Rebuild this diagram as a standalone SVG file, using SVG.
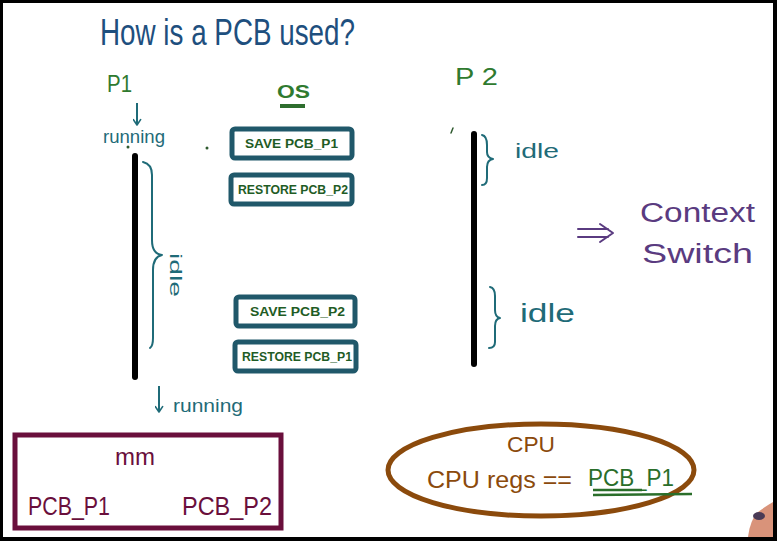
<svg xmlns="http://www.w3.org/2000/svg" width="777" height="541" viewBox="0 0 777 541">
<defs>
<style>
.hand{font-family:"Liberation Sans","DejaVu Sans",sans-serif;}
.title{fill:#1e4f7e;font-size:36px;}
.green{fill:#2f7a2f;}
.teal{fill:#1f6b78;}
.tealS{stroke:#1f6b78;fill:none;stroke-width:2;stroke-linecap:round;stroke-linejoin:round;}
.box{fill:#fff;stroke:#20586a;stroke-width:5;}
.boxtxt{fill:#1f5c25;font-size:12px;font-weight:bold;}
.tl{stroke:#000;stroke-width:6;stroke-linecap:round;}
.purple{fill:#5a3b80;}
.maroon{fill:#6a0f3c;}
.brown{fill:#8b4a0c;}
</style>
<marker id="ah" viewBox="0 0 10 10" refX="9" refY="5" markerWidth="9" markerHeight="9" orient="auto" markerUnits="userSpaceOnUse">
<path d="M3,1 L9,5 L3,9" fill="none" stroke="#1f6b78" stroke-width="1.8" stroke-linecap="round" stroke-linejoin="round"/>
</marker>
</defs>
<rect x="0" y="0" width="777" height="541" fill="#000"/>
<rect x="3" y="3" width="770" height="534" fill="#fff"/>

<text class="hand title" x="100" y="45" textLength="255" lengthAdjust="spacingAndGlyphs">How is a PCB used?</text>

<g id="p1">
<text class="hand green" x="107" y="92" font-size="24" textLength="25" lengthAdjust="spacingAndGlyphs">P1</text>
<text class="hand teal" x="103" y="143" font-size="18" textLength="62" lengthAdjust="spacingAndGlyphs">running</text>
<line class="tl" x1="135" y1="156" x2="135" y2="377"/>
<path class="tealS" d="M143,162 Q152,164 152,175 L152,240 Q152,254 162,255 Q153,257 153,270 L153,338 Q153,346 150,348"/>
<text class="hand teal" font-size="17" transform="translate(170,253) rotate(90)" textLength="44" lengthAdjust="spacingAndGlyphs">idle</text>
<text class="hand teal" x="173" y="412" font-size="18" textLength="70" lengthAdjust="spacingAndGlyphs">running</text>
</g>

<g id="os">
<text class="hand green" x="277" y="98" font-size="19" font-weight="bold" textLength="33" lengthAdjust="spacingAndGlyphs">OS</text>
<line x1="280" y1="106" x2="305" y2="106" stroke="#2e6e2e" stroke-width="4"/>
</g>

<g id="save-p1">
<rect class="box" x="232" y="129" width="120" height="29" rx="3"/>
<text class="hand boxtxt" x="245" y="148" textLength="93" lengthAdjust="spacingAndGlyphs">SAVE PCB_P1</text>
</g>
<g id="restore-p2">
<rect class="box" x="231" y="175" width="121" height="29" rx="3"/>
<text class="hand boxtxt" x="238" y="194" textLength="110" lengthAdjust="spacingAndGlyphs">RESTORE PCB_P2</text>
</g>
<g id="save-p2">
<rect class="box" x="236" y="297" width="119" height="29" rx="3"/>
<text class="hand boxtxt" x="250" y="316" textLength="95" lengthAdjust="spacingAndGlyphs">SAVE PCB_P2</text>
</g>
<g id="restore-p1">
<rect class="box" x="235" y="342" width="121" height="29" rx="3"/>
<text class="hand boxtxt" x="242" y="361" textLength="110" lengthAdjust="spacingAndGlyphs">RESTORE PCB_P1</text>
</g>

<g id="p2">
<text class="hand green" x="455" y="85" font-size="24" textLength="43" lengthAdjust="spacingAndGlyphs">P 2</text>
<line class="tl" x1="474" y1="134" x2="474" y2="364"/>
<path class="tealS" d="M482,135 Q487,136 487,145 L487,152 Q487,158 493,159 Q487,160 487,167 L487,178 Q487,185 482,185"/>
<text class="hand teal" x="515" y="158" font-size="20" textLength="44" lengthAdjust="spacingAndGlyphs">idle</text>
<path class="tealS" d="M490,287 Q495,288 495,296 L495,310 Q495,317 500,318 Q495,319 495,326 L495,342 Q495,348 489,348"/>
<text class="hand teal" x="520" y="322" font-size="25" textLength="55" lengthAdjust="spacingAndGlyphs">idle</text>
</g>

<g id="context-switch">
<path d="M578,229 L608,229 M578,237 L608,237 M600,224 L613,233 L600,242" fill="none" stroke="#5a3b80" stroke-width="2" stroke-linecap="round" stroke-linejoin="round"/>
<text class="hand purple" x="640" y="222" font-size="27" textLength="115" lengthAdjust="spacingAndGlyphs">Context</text>
<text class="hand purple" x="642" y="263" font-size="27" textLength="111" lengthAdjust="spacingAndGlyphs">Switch</text>
</g>

<g id="connectors">
<line x1="137" y1="103" x2="137" y2="125" stroke="#1f6b78" stroke-width="2" marker-end="url(#ah)"/>
<line x1="159" y1="386" x2="159" y2="412" stroke="#1f6b78" stroke-width="2" marker-end="url(#ah)"/>
</g>

<circle cx="128" cy="147" r="1.5" fill="#2f5a2f"/>
<circle cx="207" cy="148" r="1.5" fill="#2f5a2f"/>
<path d="M453,128 L451,133" stroke="#2f5a2f" stroke-width="1.5" stroke-linecap="round"/>

<g id="mm">
<rect x="15" y="435" width="266" height="93" fill="none" stroke="#6a0f3c" stroke-width="5"/>
<text class="hand maroon" x="115" y="465" font-size="24" textLength="40" lengthAdjust="spacingAndGlyphs">mm</text>
<text class="hand maroon" x="28" y="515" font-size="25" textLength="82" lengthAdjust="spacingAndGlyphs">PCB_P1</text>
<text class="hand maroon" x="182" y="515" font-size="25" textLength="90" lengthAdjust="spacingAndGlyphs">PCB_P2</text>
</g>

<g id="cpu">
<ellipse cx="541" cy="470" rx="153" ry="46" fill="none" stroke="#8b4a0c" stroke-width="5"/>
<text class="hand brown" x="507" y="452" font-size="22" textLength="48" lengthAdjust="spacingAndGlyphs">CPU</text>
<text class="hand brown" x="427" y="488" font-size="24" textLength="145" lengthAdjust="spacingAndGlyphs">CPU regs ==</text>
<text class="hand" x="588" y="486" font-size="24" fill="#2a6e2a" textLength="86" lengthAdjust="spacingAndGlyphs">PCB_P1</text>
<line x1="593" y1="490" x2="642" y2="490" stroke="#2a6e2a" stroke-width="2.5"/>
<line x1="593" y1="495" x2="692" y2="494" stroke="#2a6e2a" stroke-width="2.5"/>
</g>

<path d="M748,537 Q750,520 758,512 Q766,506 773,502 L773,537 Z" fill="#d9937a"/>
<ellipse cx="759" cy="516" rx="6" ry="4" fill="#4a3a55"/>
</svg>
